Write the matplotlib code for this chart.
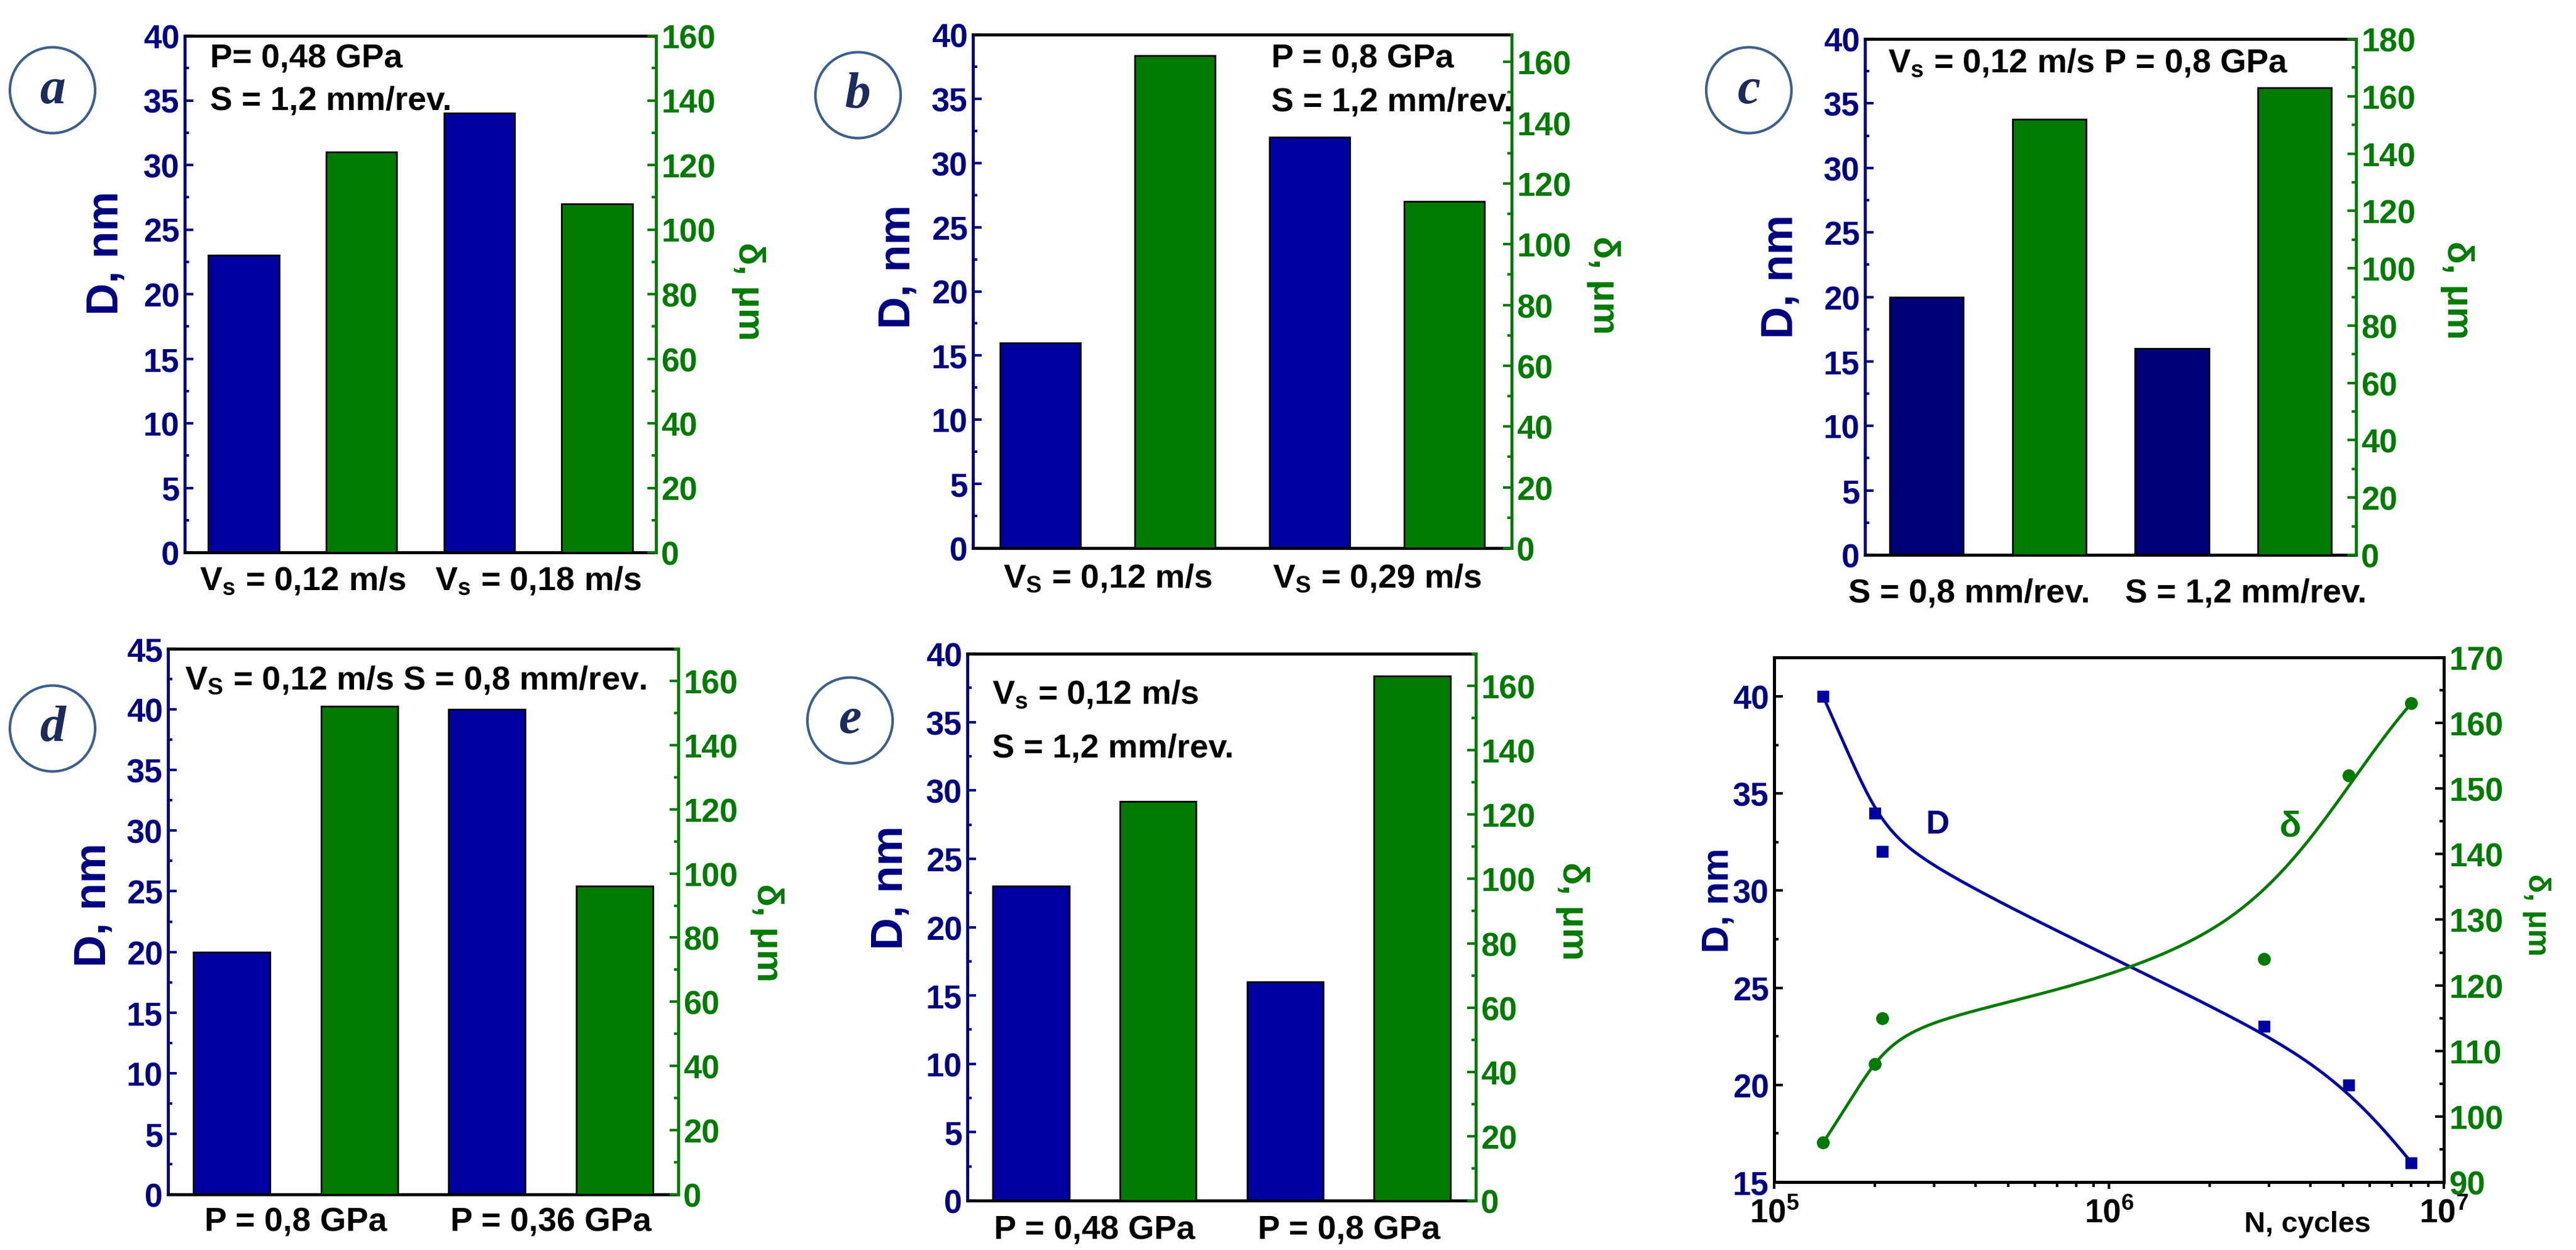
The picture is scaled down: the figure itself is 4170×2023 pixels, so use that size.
import numpy as np
import matplotlib
matplotlib.use('Agg')
import matplotlib.pyplot as plt
from matplotlib.patches import Ellipse
from matplotlib.ticker import MultipleLocator, LogLocator, NullFormatter

plt.rcParams['font.family'] = ['Liberation Sans', 'DejaVu Sans']
plt.rcParams['font.weight'] = 'bold'
plt.rcParams['mathtext.fontset'] = 'custom'
plt.rcParams['mathtext.rm'] = 'Liberation Sans:bold'
plt.rcParams['mathtext.it'] = 'Liberation Sans:bold'
plt.rcParams['mathtext.bf'] = 'Liberation Sans:bold'
plt.rcParams['mathtext.default'] = 'rm'

# ---------------- data ----------------
panel_letters = ['a', 'b', 'c', 'd', 'e']

D_a = [23, 34]
delta_a = [124, 108]
xlab_a = ['V$_s$ = 0,12 m/s', 'V$_s$ = 0,18 m/s']
note_a = ['P= 0,48 GPa', 'S = 1,2 mm/rev.']

D_b = [16, 32]
delta_b = [162, 114]
xlab_b = ['V$_S$ = 0,12 m/s', 'V$_S$ = 0,29 m/s']
note_b = ['P = 0,8 GPa', 'S = 1,2 mm/rev.']

D_c = [20, 16]
delta_c = [152, 163]
xlab_c = ['S = 0,8 mm/rev.', 'S = 1,2 mm/rev.']
note_c = ['V$_s$ = 0,12 m/s P = 0,8 GPa']

D_d = [20, 40]
delta_d = [152, 96]
xlab_d = ['P = 0,8 GPa', 'P = 0,36 GPa']
note_d = ['V$_S$ = 0,12 m/s S = 0,8 mm/rev.']

D_e = [23, 16]
delta_e = [124, 163]
xlab_e = ['P = 0,48 GPa', 'P = 0,8 GPa']
note_e = ['V$_s$ = 0,12 m/s', 'S = 1,2 mm/rev.']

N_f = [1.4e5, 2.0e5, 2.1e5, 2.9e6, 5.2e6, 8.0e6]
D_f = [40, 34, 32, 23, 20, 16]
delta_f = [96, 108, 115, 124, 152, 163]

# ---------------- style ----------------
W, H = 4170, 2024
NAVY = '#000080'
BLUE = '#0000A0'
BLUE_C = '#000078'
GREEN = '#007A00'
CIRC = '#3E5F8A'
LETTER = '#1C2B5A'

fig = plt.figure(figsize=(W / 100, H / 100), dpi=100)


def rect(x0, y0, x1, y1):
    return [x0 / W, 1 - y1 / H, (x1 - x0) / W, (y1 - y0) / H]


def ftxt(x, y, s, **kw):
    fig.text(x / W, 1 - y / H, s, **kw)


def bspline(cx, cy, n=500, k=3):
    """Clamped cubic B-spline using the data points as control points
    (Origin-style 'B-spline' connecting line)."""
    cx = np.asarray(cx, float)
    cy = np.asarray(cy, float)
    m = len(cx)
    knots = np.concatenate([np.zeros(k), np.arange(m - k + 1), np.full(k, m - k)]).astype(float)
    t = np.linspace(0, m - k, n)
    t[-1] -= 1e-9
    B = np.array([((knots[i] <= t) & (t < knots[i + 1])).astype(float)
                  for i in range(len(knots) - 1)])
    for p in range(1, k + 1):
        Bn = np.zeros((len(knots) - 1 - p, n))
        for i in range(len(knots) - 1 - p):
            d1 = knots[i + p] - knots[i]
            d2 = knots[i + p + 1] - knots[i + 1]
            a = (t - knots[i]) / d1 * B[i] if d1 > 0 else 0.0
            b = (knots[i + p + 1] - t) / d2 * B[i + 1] if d2 > 0 else 0.0
            Bn[i] = a + b
        B = Bn
    return B.T @ cx, B.T @ cy


TICK_FS = 38
NOTE_FS = 39
DLAB_FS = 52
RLAB_FS = 43

panels = [
    dict(D=D_a, dl=delta_a, xl=xlab_a, xt=[0.5, 2.5], xpad=14, notes=note_a, box=(299, 59, 1062, 895),
         dmax=40, rmax=160, blue=BLUE, note_xy=(340, 96), note_dy=67, dlab=(172, 410), rlab=(1212, 472),
         circ=(85, 147)),
    dict(D=D_b, dl=delta_b, xl=xlab_b, xt=[0.5, 2.5], xpad=16, notes=note_b, box=(1575, 57, 2447, 888),
         dmax=40, rmax=169, blue=BLUE, note_xy=(2058, 96), note_dy=69, dlab=(1454, 432), rlab=(2595, 462),
         circ=(1389, 155)),
    dict(D=D_c, dl=delta_c, xl=xlab_c, xt=[0.35, 2.6], xpad=26, notes=note_c, box=(3019, 64, 3814, 899),
         dmax=40, rmax=180, blue=BLUE_C, note_xy=(3056, 102), note_dy=67, dlab=(2883, 448), rlab=(3977, 470),
         circ=(2831, 147)),
    dict(D=D_d, dl=delta_d, xl=xlab_d, xt=[0.5, 2.5], xpad=14, notes=note_d, box=(272, 1051, 1098, 1934),
         dmax=45, rmax=170, blue=BLUE, note_xy=(299, 1101), note_dy=67, dlab=(152, 1465), rlab=(1241, 1510),
         circ=(85, 1180)),
    dict(D=D_e, dl=delta_e, xl=xlab_e, xt=[0.5, 2.5], xpad=16, notes=note_e, box=(1566, 1059, 2389, 1944),
         dmax=40, rmax=170, blue=BLUE, note_xy=(1606, 1124), note_dy=88, dlab=(1442, 1437), rlab=(2546, 1475),
         circ=(1376, 1167)),
]

for letter, p in zip(panel_letters, panels):
    ax = fig.add_axes(rect(*p['box']))
    ax2 = ax.twinx()
    ax.bar([0, 2], p['D'], width=0.6, color=p['blue'], edgecolor='black', linewidth=2, zorder=2)
    ax2.bar([1, 3], p['dl'], width=0.6, color=GREEN, edgecolor='black', linewidth=2, zorder=2)
    ax.set_xlim(-0.5, 3.5)
    ax.set_ylim(0, p['dmax'])
    ax2.set_ylim(0, p['rmax'])
    ax.set_xticks(p['xt'])
    ax.set_xticklabels(p['xl'])
    ax.tick_params(axis='x', length=0, pad=p['xpad'], labelsize=NOTE_FS, labelcolor='black')
    ax.yaxis.set_major_locator(MultipleLocator(5))
    ax.yaxis.set_minor_locator(MultipleLocator(2.5))
    ax2.yaxis.set_major_locator(MultipleLocator(20))
    ax2.yaxis.set_minor_locator(MultipleLocator(10))
    ax.tick_params(axis='y', which='major', direction='in', length=10, width=3, color=NAVY,
                   labelcolor=NAVY, labelsize=TICK_FS, pad=6)
    ax.tick_params(axis='y', which='minor', direction='in', length=5, width=3, color=NAVY)
    ax2.tick_params(axis='y', which='major', direction='in', length=10, width=3, color=GREEN,
                    labelcolor=GREEN, labelsize=TICK_FS, pad=6)
    ax2.tick_params(axis='y', which='minor', direction='in', length=5, width=3, color=GREEN)
    for s in ['left', 'top', 'bottom']:
        ax2.spines[s].set_visible(False)
    ax.spines['right'].set_visible(False)
    ax.spines['left'].set_color(NAVY)
    ax.spines['left'].set_linewidth(3.5)
    ax.spines['top'].set_color('black')
    ax.spines['top'].set_linewidth(3.5)
    ax.spines['bottom'].set_color('black')
    ax.spines['bottom'].set_linewidth(3.5)
    ax2.spines['right'].set_color(GREEN)
    ax2.spines['right'].set_linewidth(3.5)

    nx, ny = p['note_xy']
    for i, t in enumerate(p['notes']):
        ftxt(nx, ny + i * p['note_dy'], t, fontsize=NOTE_FS, color='black', ha='left', va='center')
    ftxt(*p['dlab'], 'D, nm', fontsize=DLAB_FS, color=NAVY, rotation=90, ha='center', va='center')
    ftxt(*p['rlab'], 'δ, μm', fontsize=RLAB_FS, color=GREEN, rotation=270, ha='center', va='center')

    cx, cy = p['circ']
    fig.add_artist(Ellipse((cx / W, 1 - cy / H), 138 / W, 139 / H, transform=fig.transFigure,
                           fill=False, edgecolor=CIRC, linewidth=3))
    ftxt(cx, cy, letter, fontsize=60, family='Liberation Serif', style='italic', weight='bold',
         color=LETTER, ha='center', va='center')

# ---------------- panel f ----------------
axf = fig.add_axes(rect(2872, 1065, 3956, 1914))
axf2 = axf.twinx()
axf.set_xscale('log')
axf.set_xlim(1e5, 1e7)
axf.set_ylim(15, 42)
axf2.set_ylim(90, 170)

u = np.log10(N_f)
su, sD = bspline(u, D_f)
su2, sd = bspline(u, delta_f)
axf.plot(10 ** su, sD, color=BLUE, lw=3.5, zorder=3)
axf.plot(N_f, D_f, 's', color=BLUE, ms=13, zorder=4)
axf2.plot(10 ** su2, sd, color=GREEN, lw=3.5, zorder=3)
axf2.plot(N_f, delta_f, 'o', color=GREEN, ms=14, zorder=4)

axf.yaxis.set_major_locator(MultipleLocator(5))
axf.yaxis.set_minor_locator(MultipleLocator(2.5))
axf2.yaxis.set_major_locator(MultipleLocator(10))
axf2.yaxis.set_minor_locator(MultipleLocator(5))
axf.xaxis.set_major_locator(LogLocator(base=10, numticks=10))
axf.xaxis.set_minor_locator(LogLocator(base=10, subs=np.arange(2, 10), numticks=20))
axf.xaxis.set_minor_formatter(NullFormatter())
axf.tick_params(axis='y', which='major', direction='in', length=10, width=3, color='black',
                labelcolor=NAVY, labelsize=TICK_FS, pad=6)
axf.tick_params(axis='y', which='minor', direction='in', length=5, width=3, color='black')
axf2.tick_params(axis='y', which='major', direction='in', length=10, width=3, color='black',
                 labelcolor=GREEN, labelsize=TICK_FS, pad=6)
axf2.tick_params(axis='y', which='minor', direction='in', length=5, width=3, color='black')
axf.tick_params(axis='x', which='major', direction='out', length=8, width=3, color='black',
                labelcolor='black', labelsize=TICK_FS, pad=10)
axf.tick_params(axis='x', which='minor', direction='out', length=6, width=3, color='black')
for s in axf.spines.values():
    s.set_linewidth(3.5)
    s.set_color('black')
for s in axf2.spines.values():
    s.set_linewidth(3.5)
    s.set_color('black')

axf.text(3.07e5, 33.4, 'D', fontsize=38, color=NAVY, ha='center', va='center')
axf2.text(3.48e6, 144.2, 'δ', fontsize=42, color=GREEN, ha='center', va='center')
ftxt(3735, 1982, 'N, cycles', fontsize=34, color='black', ha='center', va='center')
ftxt(2782, 1457, 'D, nm', fontsize=44, color=NAVY, rotation=90, ha='center', va='center')
ftxt(4106, 1481, 'δ, μm', fontsize=36, color=GREEN, rotation=270, ha='center', va='center')

fig.savefig('out.png', dpi=100, facecolor='white')
